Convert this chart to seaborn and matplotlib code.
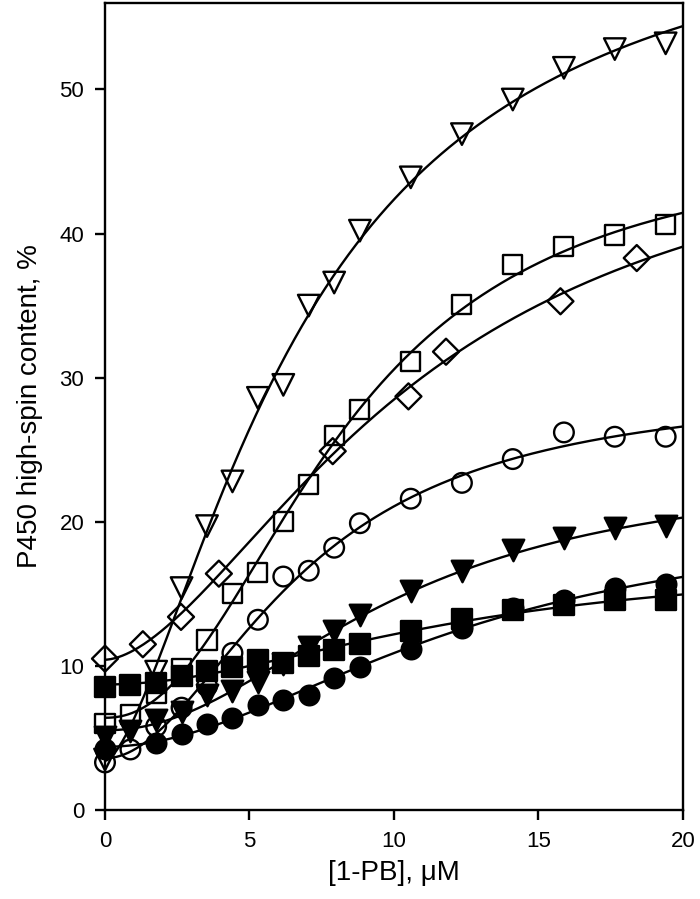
import numpy as np
import pandas as pd
import matplotlib
matplotlib.use("Agg")
import matplotlib.pyplot as plt
import seaborn as sns

# 1-PB concentrations (uM) used for most titrations
conc = [0, 0.88, 1.77, 2.65, 3.53, 4.41, 5.29, 6.17, 7.05, 7.93, 8.82,
        10.58, 12.35, 14.11, 15.88, 17.64, 19.4]
# diamond series used a different step
conc_diamond = [0, 1.31, 2.63, 3.94, 7.88, 10.5, 11.8, 15.76, 18.4]
conc_circle_filled = [0, 1.77, 2.65, 3.53, 4.41, 5.29, 6.17, 7.05, 7.93, 8.82,
                      10.58, 12.35, 14.11, 15.88, 17.64, 19.4]
conc_tri_open = [0, 1.77, 2.65, 3.53, 4.41, 5.29, 6.17, 7.05, 7.93, 8.82,
                 10.58, 12.35, 14.11, 15.88, 17.64, 19.4]

# high-spin content, %
tri_open = [3.5, 9.6, 15.4, 19.7, 22.8, 28.6, 29.5, 35.0, 36.6, 40.2,
            43.9, 46.9, 49.3, 51.5, 52.8, 53.2]
square_open = [6.0, 6.6, 8.1, 9.8, 11.8, 15.0, 16.5, 20.0, 22.6, 26.0, 27.8,
               31.1, 35.1, 37.85, 39.1, 39.9, 40.6]
diamond_open = [10.5, 11.5, 13.4, 16.4, 24.9, 28.7, 31.8, 35.3, 38.3]
circle_open = [3.3, 4.2, 5.8, 7.1, 8.6, 10.9, 13.2, 16.2, 16.6, 18.2, 19.9,
               21.6, 22.7, 24.35, 26.2, 25.9, 25.9]
tri_filled = [5.1, 5.5, 6.25, 6.8, 8.0, 8.25, 8.9, 10.1, 11.3, 12.4, 13.5,
              15.2, 16.6, 18.05, 18.85, 19.6, 19.7]
square_filled = [8.55, 8.7, 8.8, 9.3, 9.65, 9.95, 10.4, 10.2, 10.7, 11.1, 11.5,
                 12.45, 13.25, 13.9, 14.25, 14.55, 14.55]
circle_filled = [4.2, 4.65, 5.25, 5.95, 6.4, 7.3, 7.65, 8.0, 9.15, 9.95,
                 11.2, 12.6, 14.0, 14.6, 15.4, 15.7]

series = [
    ("tri_open", conc_tri_open, tri_open, "v", False),
    ("square_open", conc, square_open, "s", False),
    ("diamond_open", conc_diamond, diamond_open, "D", False),
    ("circle_open", conc, circle_open, "o", False),
    ("tri_filled", conc, tri_filled, "v", True),
    ("square_filled", conc, square_filled, "s", True),
    ("circle_filled", conc_circle_filled, circle_filled, "o", True),
]


def hill_fit(x, y):
    # grid search over K and n, linear least squares for baseline and amplitude
    x = np.asarray(x, float)
    y = np.asarray(y, float)
    K = np.linspace(0.5, 60, 300)[:, None, None]
    n = np.linspace(0.8, 4.0, 65)[None, :, None]
    f = x ** n / (K ** n + x ** n)
    fm = f.mean(-1, keepdims=True)
    ym = y.mean()
    A = ((f - fm) * (y - ym)).sum(-1, keepdims=True) / ((f - fm) ** 2).sum(-1, keepdims=True)
    y0 = ym - A * fm
    err = ((y0 + A * f - y) ** 2).sum(-1)
    i, j = np.unravel_index(np.argmin(err), err.shape)
    return K[i, 0, 0], n[0, j, 0], y0[i, j, 0], A[i, j, 0]


sns.set_style("ticks")
plt.rcParams['font.family'] = ['Liberation Sans', 'DejaVu Sans']
plt.rcParams['text.color'] = 'black'
plt.rcParams['axes.labelcolor'] = 'black'

fig = plt.figure(figsize=(7, 8.99), dpi=100)
ax = fig.add_axes([0.15, 0.099, 0.8257, 0.8977])

xs = np.linspace(0, 20, 300)
for name, x, y, mk, filled in series:
    K, n, y0, A = hill_fit(x, y)
    curve = pd.DataFrame({"x": xs, "y": y0 + A * xs ** n / (K ** n + xs ** n)})
    sns.lineplot(data=curve, x="x", y="y", color="black", lw=1.7, ax=ax)

for name, x, y, mk, filled in series:
    df = pd.DataFrame({"x": x, "y": y})
    size = {"o": 200, "s": 190, "D": 175, "v": 240}[mk]
    sns.scatterplot(data=df, x="x", y="y", marker=mk, s=size,
                    facecolor="black" if filled else "none",
                    edgecolor="black", linewidth=1.7, ax=ax, zorder=3,
                    clip_on=False)

ax.set_xlim(0, 20)
ax.set_ylim(0, 56)
ax.set_xticks([0, 5, 10, 15, 20])
ax.set_yticks([0, 10, 20, 30, 40, 50])
for s in ax.spines.values():
    s.set_linewidth(1.7)
    s.set_color("black")
ax.tick_params(direction="out", length=7, width=1.7, labelsize=16,
               colors="black", pad=8)
ax.set_xlabel("[1-PB], \u03bcM", fontsize=20, labelpad=6)
ax.set_ylabel("P450 high-spin content, %", fontsize=20, labelpad=12)

fig.savefig("out.png", dpi=100)
